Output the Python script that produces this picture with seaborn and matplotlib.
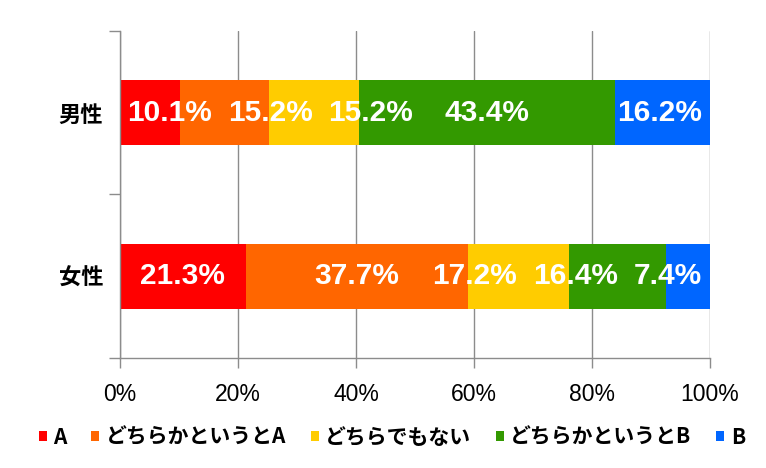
import numpy as np
import pandas as pd
import matplotlib.pyplot as plt
import seaborn as sns
from matplotlib.patches import Patch

# Data
groups = ['男性', '女性']
categories = ['A', 'どちらかというとA', 'どちらでもない', 'どちらかというとB', 'B']
male = [10.1, 15.2, 15.2, 43.4, 16.2]
female = [21.3, 37.7, 17.2, 16.4, 7.4]
colors = ['#FF0000', '#FF6600', '#FFCC00', '#339900', '#0066FF']
xticks = [0, 20, 40, 60, 80, 100]

df = pd.DataFrame([male, female], index=groups, columns=categories)
cum = df.cumsum(axis=1)

sns.set_style('white')
plt.rcParams['font.family'] = ['Noto Sans CJK JP', 'DejaVu Sans']
grey = '#8c8c8c'

fig = plt.figure(figsize=(7.66, 4.68), dpi=100)
ax = fig.add_axes([0.1567, 0.235, 0.77, 0.699])

# stacked bars: draw the cumulative totals from the largest down
for cat, col in reversed(list(zip(categories, colors))):
    plot_df = pd.DataFrame({'group': groups, 'value': cum[cat].values})
    sns.barplot(data=plot_df, x='value', y='group', orient='h', color=col,
                saturation=1, width=0.4, edgecolor='none', linewidth=0, ax=ax)

ax.set_xlim(0, 100)
ax.set_ylim(1.5, -0.5)
ax.set_xlabel('')
ax.set_ylabel('')
ax.set_xticks(xticks)
ax.set_xticklabels([f'{v}%' for v in xticks], family=['Liberation Sans', 'DejaVu Sans'],
                   fontsize=16.5)
ax.set_yticks(range(len(groups)))
ax.set_yticklabels(groups, fontsize=16, fontweight='bold')
ax.set_yticks([-0.5, 0.5, 1.5], minor=True)
ax.tick_params(axis='x', which='major', bottom=True, direction='out', length=7,
               width=1, color=grey, pad=11, labelcolor='black')
ax.tick_params(axis='y', which='major', left=False, length=0, pad=12,
               labelcolor='black')
ax.tick_params(axis='y', which='minor', left=True, direction='out', length=8,
               width=1, color=grey)
ax.grid(axis='x', color=grey, linewidth=1)
ax.set_axisbelow(True)
for s in ['top', 'right']:
    ax.spines[s].set_visible(False)
for s in ['left', 'bottom']:
    ax.spines[s].set_color(grey)
    ax.spines[s].set_linewidth(1)

# value labels, pushed apart where segments are too narrow
fig.canvas.draw()
renderer = fig.canvas.get_renderer()
ax_box = ax.get_window_extent(renderer)
lb, rb = ax_box.x0 + 7, ax_box.x1 - 8
gap = 16
for row, grp in enumerate(groups):
    vals = df.loc[grp].values
    starts = np.concatenate([[0], np.cumsum(vals)[:-1]])
    texts = []
    for v, st in zip(vals, starts):
        t = ax.text(st + v / 2, row, f'{v:.1f}%', ha='center', va='center',
                    color='white', fontsize=21.5, fontweight='bold',
                    family=['Liberation Sans', 'DejaVu Sans'])
        texts.append(t)
    widths = [t.get_window_extent(renderer).width for t in texts]
    cpx = [ax.transData.transform((t.get_position()[0], row))[0] for t in texts]
    lefts, rights = [], []
    prev_end = -1e9
    for c, w in zip(cpx, widths):
        s = max(c - w / 2, prev_end + gap, lb)
        lefts.append(s)
        rights.append(s + w)
        prev_end = s + w
    next_start = 1e9
    for i in reversed(range(len(texts))):
        e = min(rights[i], next_start - gap, rb)
        rights[i] = e
        lefts[i] = e - widths[i]
        next_start = lefts[i]
    inv = ax.transData.inverted()
    for t, l, r in zip(texts, lefts, rights):
        y_px = ax.transData.transform((0, row))[1]
        t.set_position((inv.transform(((l + r) / 2, y_px))[0], row))

handles = [Patch(facecolor=c, edgecolor='none') for c in colors]
leg = fig.legend(handles, categories, loc='center', bbox_to_anchor=(0.5115, 0.066),
                 ncol=5, frameon=False, prop={'size': 15, 'weight': 'bold'},
                 handlelength=0.38, handleheight=0.38,
                 handletextpad=0.3, columnspacing=1.2)
for t in leg.get_texts():
    t.set_color('black')

fig.savefig('out.png', dpi=100)
